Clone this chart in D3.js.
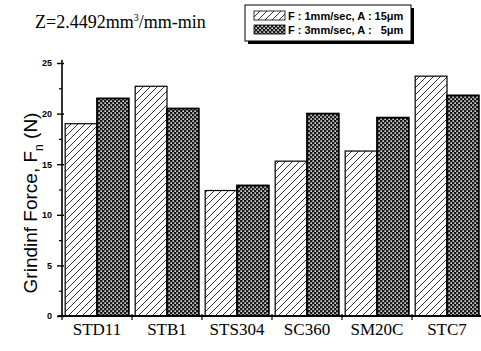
<!DOCTYPE html>
<html lang="en">
<head>
<meta charset="UTF-8">
<title>Grinding Force</title>
<style>
    body { margin: 0; background: #fff; }
    svg { display: block; }
    .serif { font-family: "Liberation Serif", "DejaVu Serif", "Times New Roman", serif; }
    .sans { font-family: Arial, "Liberation Sans", sans-serif; }
</style>
</head>
<body>
<div id="chart"></div>
<script src="https://d3js.org/d3.v7.min.js"></script>
<script>
// data
var materials = ["STD11", "STB1", "STS304", "SC360", "SM20C", "STC7"];
var seriesNames = ["F : 1mm/sec, A : 15\u03bcm", "F : 3mm/sec, A :   5\u03bcm"];
var force1 = [19.0, 22.7, 12.4, 15.3, 16.3, 23.7];
var force3 = [21.5, 20.5, 12.9, 20.0, 19.6, 21.8];
var yTicks = [0, 5, 10, 15, 20, 25];

var w = 481, h = 351;
// plot edges ("top" is taken on window, so use pTop etc.)
var pLeft = 62, pRight = 482, pTop = 63, pBottom = 316;

var svg = d3.select("#chart").append("svg")
    .attr("width", w).attr("height", h);

// fill patterns
var defs = svg.append("defs");
var hatch = defs.append("pattern").attr("id", "hatch")
    .attr("patternUnits", "userSpaceOnUse").attr("width", 7).attr("height", 7);
hatch.append("rect").attr("width", 7).attr("height", 7).attr("fill", "#fff");
hatch.append("path").attr("d", "M-1,8 L8,-1 M-4.5,4.5 L4.5,-4.5 M2.5,11.5 L11.5,2.5")
    .attr("stroke", "#000").attr("stroke-width", 0.8);

var cross = defs.append("pattern").attr("id", "cross")
    .attr("patternUnits", "userSpaceOnUse").attr("width", 4).attr("height", 4);
cross.append("rect").attr("width", 4).attr("height", 4).attr("fill", "#1a1a1a");
cross.append("rect").attr("x", 0.4).attr("y", 0.4).attr("width", 1.5).attr("height", 1.5).attr("fill", "#fff");
cross.append("rect").attr("x", 2.4).attr("y", 2.4).attr("width", 1.5).attr("height", 1.5).attr("fill", "#fff");

var x = d3.scaleBand().domain(materials).range([pLeft, pRight]).paddingInner(0).paddingOuter(0);
var x1 = d3.scaleBand().domain([0, 1]).range([0, x.bandwidth()]).paddingOuter(0.1);
var y = d3.scaleLinear().domain([0, 25]).range([pBottom, pTop]);

// bars
var groups = svg.selectAll("g.grp").data(materials).enter().append("g")
    .attr("class", "grp")
    .attr("transform", function(d) { return "translate(" + x(d) + ",0)"; });

groups.append("rect")
    .attr("x", x1(0)).attr("width", x1.bandwidth())
    .attr("y", function(d, i) { return y(force1[i]); })
    .attr("height", function(d, i) { return pBottom - y(force1[i]); })
    .attr("fill", "url(#hatch)").attr("stroke", "#000").attr("stroke-width", 1.2);

groups.append("rect")
    .attr("x", x1(1)).attr("width", x1.bandwidth())
    .attr("y", function(d, i) { return y(force3[i]); })
    .attr("height", function(d, i) { return pBottom - y(force3[i]); })
    .attr("fill", "url(#cross)").attr("stroke", "#000").attr("stroke-width", 1.8);

// y axis
var yAxis = svg.append("g").attr("transform", "translate(" + pLeft + ",0)")
    .call(d3.axisLeft(y).tickValues(yTicks).tickSize(5).tickPadding(5));
yAxis.select(".domain").attr("stroke-width", 1.6).attr("d", "M0," + (pTop - 3) + "V" + pBottom);
yAxis.selectAll(".tick line").attr("stroke-width", 1.4).attr("x2", -5).attr("x1", 2);
yAxis.selectAll(".tick text").attr("class", "sans")
    .style("font-size", "9px").style("font-weight", "bold");

svg.append("g").attr("transform", "translate(" + pLeft + ",0)")
    .call(d3.axisLeft(y).tickValues(d3.range(2.5, 25, 5)).tickSize(3).tickFormat(""))
    .call(function(g) { g.select(".domain").remove(); })
    .selectAll("line").attr("stroke-width", 1.2);

// x axis
var xAxis = svg.append("g").attr("transform", "translate(0," + pBottom + ")")
    .call(d3.axisBottom(x).tickSize(0).tickPadding(7));
xAxis.select(".domain").attr("stroke-width", 1.8).attr("d", "M" + (pLeft - 4) + ",0H" + pRight);
xAxis.selectAll(".tick text").attr("class", "serif")
    .style("font-size", "17px").style("fill", "#000");

// band boundary ticks
svg.append("g").selectAll("line").data(materials).enter().append("line")
    .attr("x1", function(d) { return x(d); }).attr("x2", function(d) { return x(d); })
    .attr("y1", pBottom - 2).attr("y2", pBottom + 4)
    .attr("stroke", "#000").attr("stroke-width", 1.2);

// y axis title
var yt = svg.append("text").attr("class", "sans")
    .attr("transform", "translate(37,203) rotate(-90)")
    .attr("text-anchor", "middle")
    .style("font-size", "19px");
yt.append("tspan").text("Grindinf Force,  F");
yt.append("tspan").attr("dy", 6).style("font-size", "12px").text("n");
yt.append("tspan").attr("dy", -6).text(" (N)");

// top-left annotation
var zt = svg.append("text").attr("class", "serif").attr("x", 35).attr("y", 28)
    .style("font-size", "18px");
zt.append("tspan").text("Z=2.4492mm");
zt.append("tspan").attr("dy", -7).style("font-size", "10px").text("3");
zt.append("tspan").attr("dy", 7).text("/mm-min");

// legend
var lg = svg.append("g").attr("transform", "translate(245,5)");
lg.append("rect").attr("x", 3).attr("y", 3).attr("width", 166).attr("height", 36).attr("fill", "#000");
lg.append("rect").attr("x", 0).attr("y", 0).attr("width", 166).attr("height", 36)
    .attr("fill", "#fff").attr("stroke", "#000").attr("stroke-width", 1);
var fills = ["url(#hatch)", "url(#cross)"];
seriesNames.forEach(function(name, i) {
    lg.append("rect").attr("x", 9).attr("y", 6 + i * 14).attr("width", 31).attr("height", 9)
        .attr("fill", fills[i]).attr("stroke", "#000").attr("stroke-width", 0.8);
    lg.append("text").attr("class", "sans").attr("x", 43).attr("y", 14.5 + i * 14)
        .style("font-size", "11px").style("font-weight", "bold")
        .style("white-space", "pre")
        .text(name);
});
</script>
</body>
</html>
